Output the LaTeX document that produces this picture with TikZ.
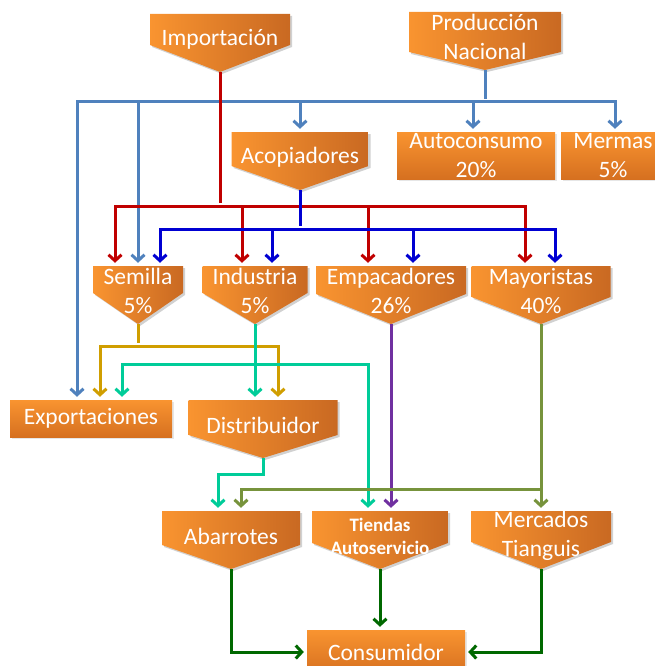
\documentclass[tikz,border=0pt]{standalone}
\usepackage{fontspec}
\setmainfont{Carlito}
\usetikzlibrary{arrows.meta,shadows}

\definecolor{orL}{RGB}{249,148,48}
\definecolor{orM}{RGB}{240,138,42}
\definecolor{orR}{RGB}{201,105,34}
\definecolor{orB}{RGB}{214,112,32}
\definecolor{stblue}{RGB}{79,129,189}
\definecolor{dred}{RGB}{192,0,0}
\definecolor{dblue}{RGB}{0,0,210}
\definecolor{gold}{RGB}{208,158,0}
\definecolor{tealc}{RGB}{0,204,153}
\definecolor{purp}{RGB}{112,48,160}
\definecolor{olivec}{RGB}{119,147,60}
\definecolor{dgreen}{RGB}{0,104,0}

% pentagon box: [options] name, x, top, width, side, text
\newcommand{\pentnode}[7][]{%
  \fill[black, opacity=0.18] ({#3-#5/2+2},{#4+2}) -- ({#3+#5/2+2},{#4+2}) -- ({#3+#5/2+2},{#4+#6+2}) -- ({#3+2},{#4+60}) -- ({#3-#5/2+2},{#4+#6+2}) -- cycle;
  \shade[left color=orL, middle color=orM, right color=orR] ({#3-#5/2},{#4}) -- ({#3+#5/2},{#4}) -- ({#3+#5/2},{#4+#6}) -- (#3,{#4+58}) -- ({#3-#5/2},{#4+#6}) -- cycle;
  \node[pent, minimum width=#5pt, #1] (#2) at (#3,{#4+25}) {#7};
  \coordinate (#2-tip) at (#3,{#4+58});
}

\begin{document}
\begin{tikzpicture}[x=1pt, y=-1pt,
    >={Straight Barb[length=6pt,width=13pt]},
    pent/.style={text=white, align=center, inner sep=0pt, minimum height=50pt,
      font=\fontsize{23.5}{29}\selectfont},
    rbox/.style={top color=orL, bottom color=orB, text=white, align=center, inner sep=0pt,
      font=\fontsize{23.5}{29}\selectfont,
      drop shadow={opacity=0.2, shadow xshift=2pt, shadow yshift=-2pt}},
    conn/.style={line width=3pt, shorten >=3pt},
    stb/.style={conn, stblue},
    rd/.style={conn, dred},
    bl/.style={conn, dblue},
    gd/.style={conn, gold},
    tl/.style={conn, tealc},
    pu/.style={conn, purp},
    ol/.style={conn, olivec},
    gr/.style={conn, dgreen}
  ]
  \useasboundingbox (0,0) rectangle (655,666);

  % sources
  \pentnode{imp}{220}{14}{140}{31}{Importación}
  \pentnode{prod}{485}{12}{152}{40}{Producción\\Nacional}
  \pentnode{acop}{300}{132}{137}{34}{Acopiadores}
  \node[rbox, minimum width=158pt, minimum height=47pt] (auto) at (476,155.5) {Autoconsumo\\20\%};
  \node[rbox, minimum width=104pt, minimum height=47pt] (mermas) at (613,155.5) {Mermas\\5\%};

  % second row
  \pentnode{semilla}{138}{266}{90}{27}{Semilla\\5\%}
  \pentnode{industria}{255}{266}{105}{27}{Industria\\5\%}
  \pentnode{empac}{391}{266}{150}{28}{Empacadores\\26\%}
  \pentnode{mayor}{541}{266}{139}{31}{Mayoristas\\40\%}

  % third row
  \node[rbox, minimum width=162pt, minimum height=37pt] (expo) at (91,418.5) {Exportaciones};
  \pentnode{distrib}{263}{400}{149}{35}{Distribuidor}

  % retail
  \pentnode{abarr}{231}{511}{138}{34}{Abarrotes}
  \pentnode[font=\fontsize{19}{23}\selectfont\bfseries]{tiendas}{380}{511}{136}{32}{Tiendas\\Autoservicio}
  \pentnode{mercados}{541}{511}{140}{31}{Mercados\\Tianguis}
  \node[rbox, minimum width=158pt, minimum height=44pt] (consum) at (386,652) {Consumidor};

  % Produccion Nacional
  \draw[stb] (prod-tip) -- ++(0,32) coordinate (pj);
  \draw[stb,->] (pj) -| ([xshift=-14pt]expo.north);
  \draw[stb,->] (pj) -| (semilla.north);
  \draw[stb,->] (pj) -| (acop.north);
  \draw[stb,->] (pj) -| ([xshift=-3pt]auto.north);
  \draw[stb,->] (pj) -| ([xshift=2pt]mermas.north);

  % Importacion
  \draw[rd] (imp-tip) -- ++(0,134) coordinate (rj);
  \draw[rd,->] (rj) -| ([xshift=-23pt]semilla.north);
  \draw[rd,->] (rj) -| ([xshift=-13pt]industria.north);
  \draw[rd,->] (rj) -| ([xshift=-23pt]empac.north);
  \draw[rd,->] (rj) -| ([xshift=-16pt]mayor.north);

  % Acopiadores
  \draw[bl] (acop-tip) -- ++(0,39) coordinate (bj);
  \draw[bl,->] (bj) -| ([xshift=22pt]semilla.north);
  \draw[bl,->] (bj) -| ([xshift=17pt]industria.north);
  \draw[bl,->] (bj) -| ([xshift=22pt]empac.north);
  \draw[bl,->] (bj) -| ([xshift=14pt]mayor.north);

  % Semilla
  \draw[gd] (semilla-tip) -- ++(0,22) coordinate (gj);
  \draw[gd,->] (gj) -| ([xshift=9pt]expo.north);
  \draw[gd,->] (gj) -| ([xshift=15pt]distrib.north);

  % Industria
  \draw[tl,->] (industria-tip) -- (industria-tip |- distrib.north);
  \path (industria-tip) ++(0,40) coordinate (tj);
  \draw[tl,->] (tj) -| ([xshift=31pt]expo.north);
  \draw[tl,->] (tj) -| ([xshift=-12pt]tiendas.north);

  % Distribuidor
  \draw[tl,->] (distrib-tip) -- ++(0,16) -| ([xshift=-13pt]abarr.north);

  % Empacadores
  \draw[pu,->] (empac-tip) -- (empac-tip |- tiendas.north);

  % Mayoristas
  \draw[ol,->] (mayor-tip) -- (mayor-tip |- mercados.north);
  \path (mayor-tip) ++(0,165) coordinate (oj);
  \draw[ol,->] (oj) -| ([xshift=10pt]abarr.north);

  % to Consumidor
  \draw[gr,->] (abarr-tip) |- (consum.west);
  \draw[gr,->] (tiendas-tip) -- (tiendas-tip |- consum.north);
  \draw[gr,->] (mercados-tip) |- (consum.east);
\end{tikzpicture}
\end{document}
